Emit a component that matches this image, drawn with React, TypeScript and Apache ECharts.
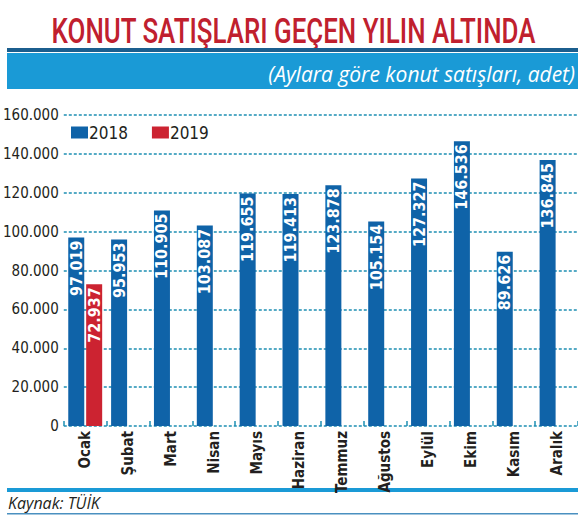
import React, { useEffect, useRef } from "react";
import * as echarts from "echarts";

const months = ["Ocak", "Şubat", "Mart", "Nisan", "Mayıs", "Haziran", "Temmuz", "Ağustos", "Eylül", "Ekim", "Kasım", "Aralık"];
const sales2018 = [97019, 95953, 110905, 103087, 119655, 119413, 123878, 105154, 127327, 146536, 89626, 136845];
const sales2019 = [72937];
const seriesNames = ["2018", "2019"];
const yMin = 0;
const yMax = 160000;
const yStep = 20000;

const titleText = "KONUT SATIŞLARI GEÇEN YILIN ALTINDA";
const subtitleText = "(Aylara göre konut satışları, adet)";
const sourceText = "Kaynak: TÜİK";

const NARROW = "'Liberation Sans Narrow', 'DejaVu Sans Condensed', 'Roboto Condensed', Roboto, sans-serif";
const BLUE = "#0f63a8";
const RED = "#cc2331";
const TEAL = "#1e8fb3";
const BAND = "#1a9ad6";

const fmt = (v: number) => String(v).replace(/\B(?=(\d{3})+(?!\d))/g, ".");

export default function App() {
  const ref = useRef<HTMLDivElement>(null);
  useEffect(() => {
    if (!ref.current) return;
    const chart = echarts.init(ref.current, undefined, { renderer: "svg" });
    const barLabel = {
      show: true,
      position: "insideTop",
      rotate: 90,
      align: "right",
      verticalAlign: "middle",
      distance: 3,
      color: "#ffffff",
      fontFamily: NARROW,
      fontWeight: "bold",
      fontSize: 16,
      formatter: (p: any) => fmt(p.value),
    };
    chart.setOption({
      animation: false,
      backgroundColor: "#ffffff",
      grid: { left: 58, right: 0, top: 115, bottom: 89, containLabel: false },
      legend: {
        show: true,
        left: 66,
        top: 119,
        icon: "rect",
        itemWidth: 17,
        itemHeight: 12,
        itemGap: 24,
        textStyle: { fontFamily: NARROW, fontSize: 17, color: "#231f20", padding: [0, 0, 0, -4] },
        data: seriesNames,
      },
      xAxis: {
        type: "category",
        data: months,
        axisLine: { show: false },
        axisTick: { show: true, inside: true, length: 5, lineStyle: { color: TEAL, width: 1.5 } },
        axisLabel: {
          rotate: 90,
          margin: 5,
          fontFamily: NARROW,
          fontWeight: "bold",
          fontSize: 15,
          color: "#231f20",
          interval: 0,
        },
      },
      yAxis: {
        type: "value",
        min: yMin,
        max: yMax,
        interval: yStep,
        axisLine: { show: false },
        axisTick: { show: false },
        axisLabel: {
          margin: 5,
          fontFamily: NARROW,
          fontSize: 15,
          color: "#231f20",
          formatter: (v: number) => fmt(v),
        },
        splitLine: { show: true, lineStyle: { color: TEAL, width: 1.5, type: [3, 2] } },
      },
      series: [
        {
          name: seriesNames[0],
          type: "bar",
          data: sales2018,
          barWidth: 16,
          barGap: "12%",
          itemStyle: { color: BLUE },
          label: barLabel,
        },
        {
          name: seriesNames[1],
          type: "bar",
          data: sales2019,
          barWidth: 16,
          barGap: "12%",
          itemStyle: { color: RED },
          label: barLabel,
        },
      ],
      graphic: [
        {
          type: "text",
          x: 293.5,
          y: 31,
          scaleX: 0.72,
          style: {
            text: titleText,
            fontFamily: "Roboto",
            fontWeight: 500,
            fontSize: 36,
            fill: "#c0202e",
            textAlign: "center",
            textVerticalAlign: "middle",
          },
        },
        { type: "rect", shape: { x: 7, y: 48, width: 571, height: 4 }, style: { fill: "#1b5e8e" } },
        { type: "rect", shape: { x: 7, y: 53, width: 571, height: 36 }, style: { fill: BAND } },
        {
          type: "text",
          x: 575,
          y: 74,
          style: {
            text: subtitleText,
            fontFamily: "'Open Sans'",
            fontStyle: "italic",
            fontSize: 21,
            fill: "#ffffff",
            textAlign: "right",
            textVerticalAlign: "middle",
          },
        },
        { type: "rect", shape: { x: 7, y: 488, width: 571, height: 4 }, style: { fill: BAND } },
        {
          type: "text",
          x: 8,
          y: 503,
          style: {
            text: sourceText,
            fontFamily: "'Open Sans'",
            fontStyle: "italic",
            fontSize: 16,
            fill: "#231f20",
            textAlign: "left",
            textVerticalAlign: "middle",
          },
        },
        { type: "rect", shape: { x: 7, y: 513, width: 571, height: 1.5 }, style: { fill: "#4a90c0" } },
      ],
    });
    return () => chart.dispose();
  }, []);
  return <div ref={ref} style={{ position: "fixed", left: 0, top: 0, width: 578, height: 515 }} />;
}
